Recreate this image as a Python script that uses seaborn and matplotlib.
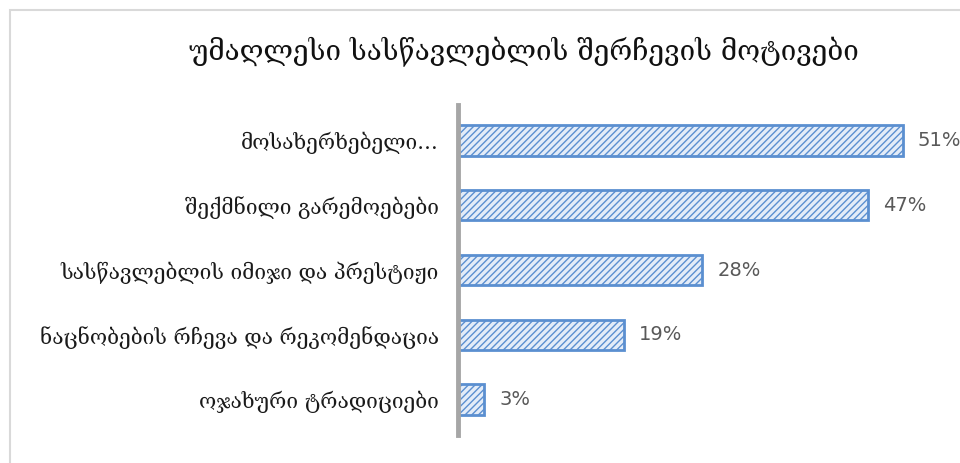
import matplotlib
matplotlib.use("Agg")
import matplotlib.pyplot as plt
import seaborn as sns
import pandas as pd
from matplotlib.patches import Rectangle

# data
motives = [
    "მოსახერხებელი…",
    "შექმნილი გარემოებები",
    "სასწავლებლის იმიჯი და პრესტიჟი",
    "ნაცნობების რჩევა და რეკომენდაცია",
    "ოჯახური ტრადიციები",
]
shares = [51, 47, 28, 19, 3]
title = "უმაღლესი სასწავლებლის შერჩევის მოტივები"

df = pd.DataFrame({"motive": motives, "share": shares})

sns.set_theme(style="white")
plt.rcParams["font.family"] = ["DejaVu Serif", "DejaVu Sans"]
plt.rcParams["hatch.linewidth"] = 1.0
plt.rcParams["hatch.color"] = "#6a9ad6"

fig = plt.figure(figsize=(9.6, 4.63), dpi=100)
ax = fig.add_axes([458 / 960, 1 - 435 / 463, 480 / 960, 330 / 463])

sns.barplot(data=df, x="share", y="motive", orient="h", ax=ax,
            color="#e3ecf8", width=0.47, saturation=1,
            edgecolor="#5b8fd0", linewidth=2)

for p in ax.patches:
    p.set_hatch("/////")

# value labels
for i, v in enumerate(shares):
    ax.text(v + 1.7, i, f"{v}%", va="center", ha="left",
            fontsize=14, color="#595959", family="DejaVu Sans")

ax.set_xlim(0, 55)
ax.set_ylim(4.55, -0.55)
ax.set_xlabel("")
ax.set_ylabel("")
ax.set_xticks([])
ax.tick_params(axis="y", length=0, pad=14, labelsize=15, labelcolor="#1a1a1a")

for s in ["top", "right", "bottom"]:
    ax.spines[s].set_visible(False)
ax.spines["left"].set_color("#a6a6a6")
ax.spines["left"].set_linewidth(3.5)

fig.text(524 / 960, 1 - 52 / 463, title, ha="center", va="center",
         fontsize=20, color="#111111")

# chart frame
fig.patches.append(Rectangle((10 / 960, -0.1), 1.2, 1 - 10 / 463 + 0.1,
                             transform=fig.transFigure, fill=False,
                             edgecolor="#d9d9d9", linewidth=1.5))

fig.savefig("out.png", dpi=100)
